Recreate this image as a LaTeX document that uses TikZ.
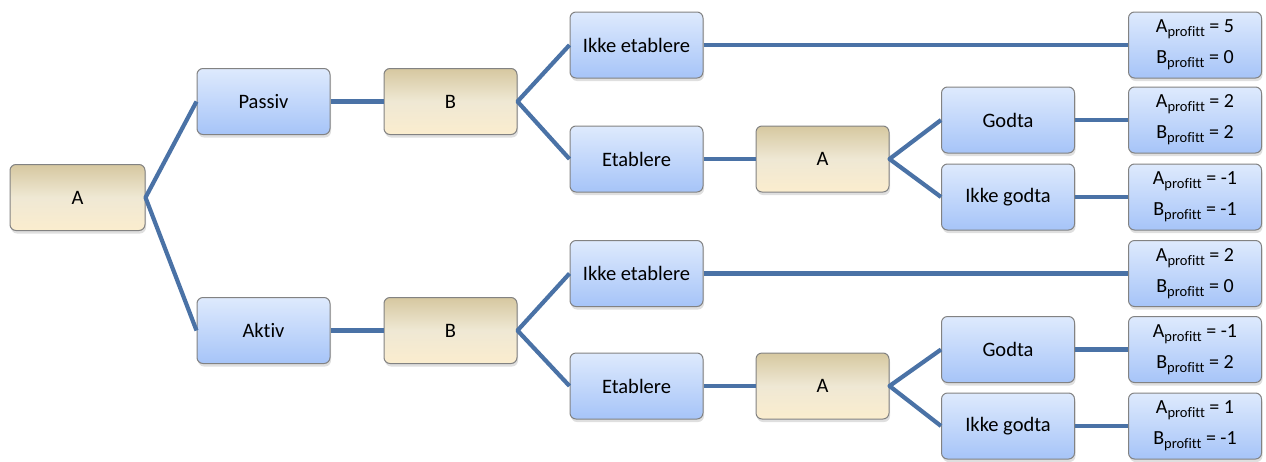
\documentclass[tikz,border=0pt]{standalone}
\usepackage{fontspec}
\setmainfont[Ligatures=NoCommon]{Carlito}
\usetikzlibrary{positioning,shadows}
\definecolor{linjeblaa}{RGB}{74,114,166}
\definecolor{valgtopp}{RGB}{222,234,253}
\definecolor{valgbunn}{RGB}{166,196,248}
\definecolor{spilltopp}{RGB}{214,200,160}
\definecolor{spillmidt}{RGB}{239,232,212}
\definecolor{spillbunn}{RGB}{251,237,206}
\definecolor{kant}{RGB}{130,130,130}
\tikzset{
  boks/.style={rectangle, rounded corners=6pt, draw=kant, line width=1pt,
    minimum width=133pt, minimum height=66pt, inner sep=0pt,
    font=\fontsize{20.5}{24}\selectfont,
    drop shadow={opacity=0.25, shadow xshift=1pt, shadow yshift=-3pt}},
  valg/.style={boks, top color=valgtopp, bottom color=valgbunn}, % handlinger
  spiller/.style={boks, top color=spilltopp, bottom color=spillbunn, middle color=spillmidt}, % hvem velger
  utfall/.style={valg, align=center, font=\fontsize{20}{31}\selectfont},
  gren/.style={draw=linjeblaa, line width=4.2pt, line join=round},
}
\newcommand{\prof}[2]{#1\raisebox{-4pt}{\fontsize{14.5}{16}\selectfont profitt} = #2}

\begin{document}
\begin{tikzpicture}[x=1pt,y=-1pt]
  \useasboundingbox (0,0) rectangle (1266,461);
  % roten
  \node[spiller, minimum width=135pt] (a0) at (77.5,197.5) {A};
  % passiv gren
  \node[valg] (passiv) at (263.5,101.5) {Passiv};
  \node[spiller, right=53pt of passiv] (b1) {B};
  \node[valg] (ikke1) at (636.5,45) {Ikke etablere};
  \node[valg] (etabl1) at (636.5,159) {Etablere};
  \node[spiller, right=52pt of etabl1] (a1) {A};
  \node[valg] (godta1) at (1008,120) {Godta};
  \node[valg] (ikkeg1) at (1008,197) {Ikke godta};
  \node[utfall, right=53pt of godta1] (u2) {\prof{A}{2}\\\prof{B}{2}};
  \node[utfall, right=53pt of ikkeg1] (u3) {\prof{A}{-1}\\\prof{B}{-1}};
  \node[utfall] (u1) at (u2 |- ikke1) {\prof{A}{5}\\\prof{B}{0}};
  % aktiv gren
  \node[valg] (aktiv) at (263.5,330.5) {Aktiv};
  \node[spiller, right=53pt of aktiv] (b2) {B};
  \node[valg] (ikke2) at (636.5,273.5) {Ikke etablere};
  \node[valg] (etabl2) at (636.5,386) {Etablere};
  \node[spiller, right=52pt of etabl2] (a2) {A};
  \node[valg] (godta2) at (1008,349.5) {Godta};
  \node[valg] (ikkeg2) at (1008,426) {Ikke godta};
  \node[utfall, right=53pt of godta2] (u5) {\prof{A}{-1}\\\prof{B}{2}};
  \node[utfall, right=53pt of ikkeg2] (u6) {\prof{A}{1}\\\prof{B}{-1}};
  \node[utfall] (u4) at (u5 |- ikke2) {\prof{A}{2}\\\prof{B}{0}};

  \draw[gren] (passiv.west) -- (a0.east) -- (aktiv.west);
  \draw[gren] (passiv.east) -- (b1.west);
  \draw[gren] (ikke1.west) -- (b1.east) -- (etabl1.west);
  \draw[gren] (ikke1.east) -- (u1.west);
  \draw[gren] (etabl1.east) -- (a1.west);
  \draw[gren] (godta1.west) -- (a1.east) -- (ikkeg1.west);
  \draw[gren] (godta1.east) -- (u2.west);
  \draw[gren] (ikkeg1.east) -- (u3.west);
  \draw[gren] (aktiv.east) -- (b2.west);
  \draw[gren] (ikke2.west) -- (b2.east) -- (etabl2.west);
  \draw[gren] (ikke2.east) -- (u4.west);
  \draw[gren] (etabl2.east) -- (a2.west);
  \draw[gren] (godta2.west) -- (a2.east) -- (ikkeg2.west);
  \draw[gren] (godta2.east) -- (u5.west);
  \draw[gren] (ikkeg2.east) -- (u6.west);
\end{tikzpicture}
\end{document}
